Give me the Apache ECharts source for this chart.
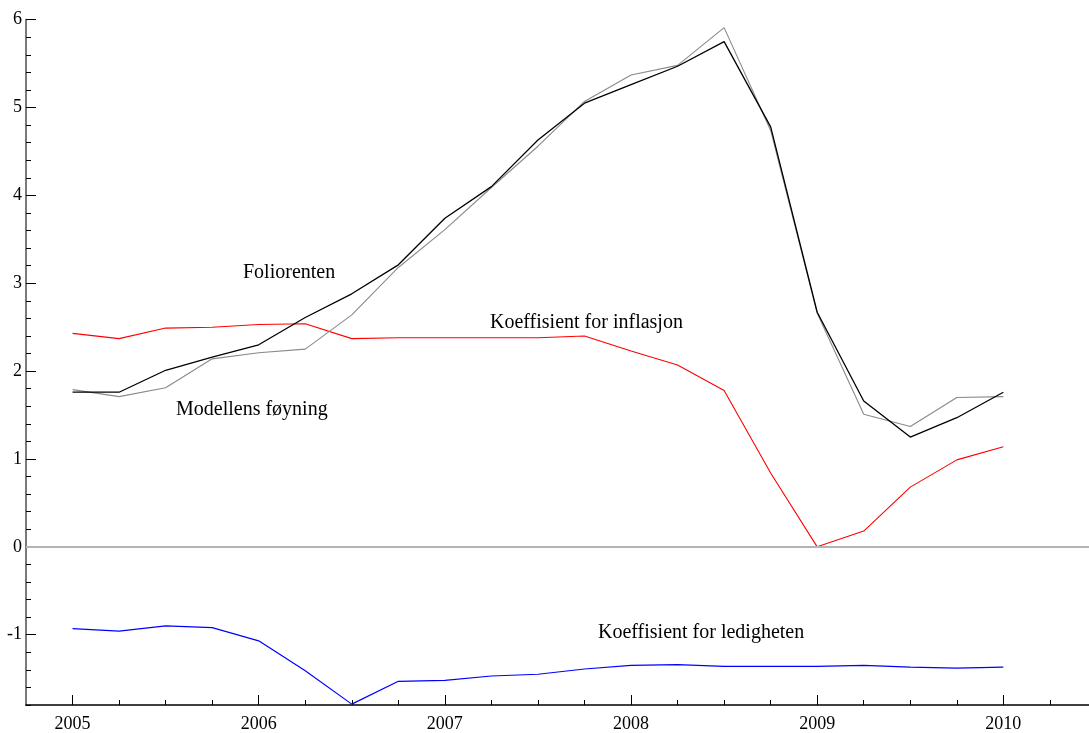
<!DOCTYPE html>
<html>
<head>
<meta charset="utf-8">
<script src="https://cdn.jsdelivr.net/npm/echarts@6/dist/echarts.min.js"></script>
<style>
html,body{margin:0;padding:0;background:#fff;}
#chart{width:1089px;height:733px;}
</style>
</head>
<body>
<div id="chart"></div>
<script>
// Quarterly observations 2005Q1 .. 2010Q1
var quarters = [2005, 2005.25, 2005.5, 2005.75, 2006, 2006.25, 2006.5, 2006.75,
  2007, 2007.25, 2007.5, 2007.75, 2008, 2008.25, 2008.5, 2008.75,
  2009, 2009.25, 2009.5, 2009.75, 2010];

var foliorenten = [1.76, 1.76, 2.01, 2.16, 2.30, 2.61, 2.88, 3.21,
  3.74, 4.10, 4.63, 5.05, 5.26, 5.47, 5.75, 4.78,
  2.67, 1.66, 1.25, 1.47, 1.76];

var modellensFoyning = [1.79, 1.71, 1.81, 2.14, 2.21, 2.25, 2.64, 3.18,
  3.61, 4.09, 4.56, 5.07, 5.37, 5.48, 5.91, 4.74,
  2.66, 1.51, 1.37, 1.70, 1.71];

var koeffInflasjon = [2.43, 2.37, 2.49, 2.50, 2.53, 2.54, 2.37, 2.38,
  2.38, 2.38, 2.38, 2.40, 2.23, 2.07, 1.78, 0.84,
  0.00, 0.18, 0.68, 0.99, 1.14];

var koeffLedigheten = [-0.93, -0.96, -0.90, -0.92, -1.07, -1.41, -1.79, -1.53,
  -1.52, -1.47, -1.45, -1.39, -1.35, -1.34, -1.36, -1.36,
  -1.36, -1.35, -1.37, -1.38, -1.37];

var xMajorTicks = [2005, 2006, 2007, 2008, 2009, 2010];
var xMinorTicks = [2005, 2005.25, 2005.5, 2005.75, 2006, 2006.25, 2006.5, 2006.75,
  2007, 2007.25, 2007.5, 2007.75, 2008, 2008.25, 2008.5, 2008.75,
  2009, 2009.25, 2009.5, 2009.75, 2010, 2010.25];
var yMajorTicks = [-1, 0, 1, 2, 3, 4, 5, 6];
var yMinorTicks = [];
for (var k = -9; k <= 30; k++) { yMinorTicks.push(Math.round(k * 0.2 * 10) / 10); }

function pairs(vals) {
  return quarters.map(function (q, i) { return [q, vals[i]]; });
}

var FONT = '"Liberation Serif", "Times New Roman", serif';

var chart = echarts.init(document.getElementById('chart'), null, {renderer: 'canvas'});

chart.setOption({
  animation: false,
  backgroundColor: '#fff',
  grid: {left: 26, right: 0, top: 19.7, bottom: 26.7, containLabel: false},
  xAxis: [{
    type: 'value', min: 2004.75, max: 2010.46, position: 'bottom',
    axisLine: {show: true, onZero: false, lineStyle: {color: '#000', width: 1.5}},
    axisTick: {show: true, inside: true, length: 10, customValues: xMajorTicks, lineStyle: {color: '#000', width: 1}},
    axisLabel: {show: true, margin: 10, customValues: xMajorTicks,
      color: '#000', fontFamily: FONT, fontSize: 18,
      formatter: function (v) { return String(Math.round(v)); }},
    splitLine: {show: false}
  }, {
    type: 'value', min: 2004.75, max: 2010.46, position: 'bottom',
    axisLine: {show: false, onZero: false},
    axisTick: {show: true, inside: true, length: 5, customValues: xMinorTicks, lineStyle: {color: '#000', width: 1}},
    axisLabel: {show: false},
    splitLine: {show: false}
  }],
  yAxis: [{
    type: 'value', min: -1.8, max: 6, position: 'left',
    axisLine: {show: true, onZero: false, lineStyle: {color: '#7a7a7a', width: 2}},
    axisTick: {show: true, inside: true, length: 10, customValues: yMajorTicks, lineStyle: {color: '#000', width: 1}},
    axisLabel: {show: true, margin: 4, customValues: yMajorTicks, padding: [6, 0, 0, 0],
      color: '#000', fontFamily: FONT, fontSize: 18,
      formatter: function (v) { return String(Math.round(v)); }},
    splitLine: {show: false}
  }, {
    type: 'value', min: -1.8, max: 6, position: 'left',
    axisLine: {show: false, onZero: false},
    axisTick: {show: true, inside: true, length: 5, customValues: yMinorTicks, lineStyle: {color: '#000', width: 1}},
    axisLabel: {show: false},
    splitLine: {show: false}
  }],
  series: [{
    name: 'Koeffisient for ledigheten', type: 'line', data: pairs(koeffLedigheten),
    showSymbol: false, symbol: 'none', lineStyle: {color: '#0000ff', width: 1.2},
    markLine: {silent: true, symbol: 'none', label: {show: false},
      lineStyle: {color: '#b4b4b4', width: 2, type: 'solid'}, data: [{yAxis: 0}]}
  }, {
    name: 'Koeffisient for inflasjon', type: 'line', data: pairs(koeffInflasjon),
    showSymbol: false, symbol: 'none', lineStyle: {color: '#ff0000', width: 1.1}
  }, {
    name: 'Modellens føyning', type: 'line', data: pairs(modellensFoyning),
    showSymbol: false, symbol: 'none', lineStyle: {color: '#8a8a8a', width: 1.1}
  }, {
    name: 'Foliorenten', type: 'line', data: pairs(foliorenten),
    showSymbol: false, symbol: 'none', lineStyle: {color: '#000', width: 1.3}
  }],
  graphic: [
    {type: 'text', left: 243, top: 263, style: {text: 'Foliorenten', font: '20px ' + FONT, fill: '#000'}},
    {type: 'text', left: 490, top: 313, style: {text: 'Koeffisient for inflasjon', font: '20px ' + FONT, fill: '#000'}},
    {type: 'text', left: 176, top: 400, style: {text: 'Modellens føyning', font: '20px ' + FONT, fill: '#000'}},
    {type: 'text', left: 598, top: 623, style: {text: 'Koeffisient for ledigheten', font: '20px ' + FONT, fill: '#000'}}
  ]
});
</script>
</body>
</html>
